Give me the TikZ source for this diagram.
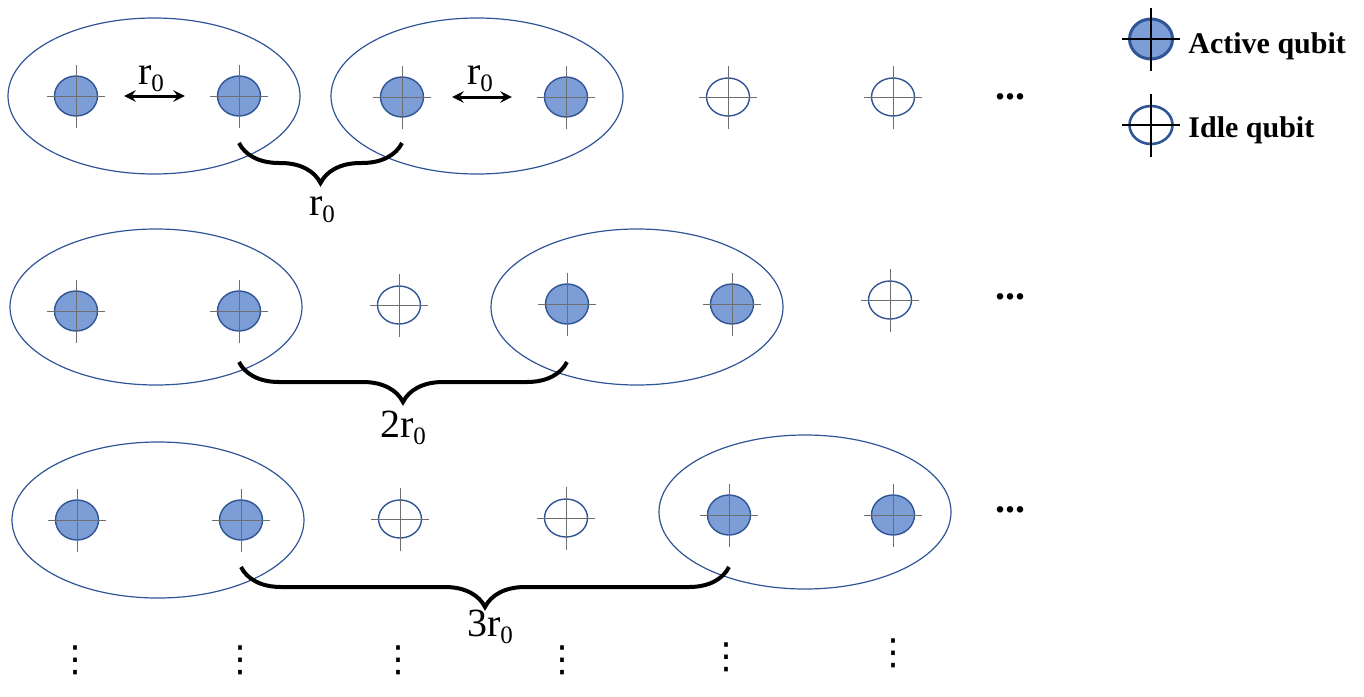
\documentclass[tikz,border=0pt]{standalone}
\usepackage{fontspec}
\setmainfont{Liberation Serif}
\newfontfamily\symbolfont{DejaVu Sans}
\usetikzlibrary{shapes.geometric,decorations.pathreplacing}

\definecolor{qubitFill}{RGB}{125,157,214}
\definecolor{qubitLine}{RGB}{47,85,151}
\definecolor{crossGray}{RGB}{110,110,110}

\tikzset{
	activeQ/.style={ellipse, draw=qubitLine, fill=qubitFill, line width=0.7pt, minimum width=21.5pt, minimum height=20pt, inner sep=0pt},
	idleQ/.style={ellipse, draw=qubitLine, fill=white, line width=0.7pt, minimum width=21.5pt, minimum height=19pt, inner sep=0pt},
	crossLine/.style={draw=crossGray, line width=0.5pt},
	legendCross/.style={draw=black, line width=0.6pt},
	groupBox/.style={ellipse, draw=qubitLine, line width=0.6pt, minimum width=146pt, minimum height=78pt, inner sep=0pt},
	braceLine/.style={decorate, decoration={brace, mirror, amplitude=20pt}, line width=2pt},
	distArrow/.style={<->, >=stealth, line width=1.5pt},
	distLabel/.style={font=\fontsize{20}{24}\selectfont, anchor=base, inner sep=0pt},
	dotsText/.style={font=\fontsize{20}{24}\selectfont\bfseries, anchor=base, inner sep=0pt},
	vdotsText/.style={font=\fontsize{18}{20}\symbolfont, inner sep=0pt},
	legendText/.style={font=\fontsize{15}{18}\selectfont\bfseries, anchor=base west, inner sep=0pt}
}

% crosshair through a qubit
\newcommand{\qcross}[2][crossLine]{%
	\draw[#1] ([xshift=-14.5pt]#2.center) -- ([xshift=14.5pt]#2.center);
	\draw[#1] ([yshift=-15.75pt]#2.center) -- ([yshift=15.75pt]#2.center);}
\newcommand{\rnought}{r\raisebox{-3.5pt}{\fontsize{12.5}{14}\selectfont 0}}

\begin{document}
\begin{tikzpicture}[x=0.5pt, y=-0.5pt]
\useasboundingbox (0,0) rectangle (1364,696);

	% pairs
	\node[groupBox](g11) at (154,96){};
	\node[groupBox](g12) at (477,96){};
	\node[groupBox](g21) at (156,307){};
	\node[groupBox](g22) at (637,307){};
	\node[groupBox](g31) at (158,520){};
	\node[groupBox, minimum height=77pt](g32) at (805,512){};

	% row 1
	\node[activeQ](q11) at (76,96){}; \qcross{q11}
	\node[activeQ](q12) at (239,96){}; \qcross{q12}
	\node[activeQ](q13) at (402,97){}; \qcross{q13}
	\node[activeQ](q14) at (566,97){}; \qcross{q14}
	\node[idleQ](q15) at (728,97){}; \qcross{q15}
	\node[idleQ](q16) at (893,97){}; \qcross{q16}
	\node[dotsText](e1) at (1010,99){...};

	\draw[distArrow] ([xshift=13pt]q11.east) -- ([xshift=-16pt]q12.west);
	\node[distLabel](d1) at (151,84){\rnought};
	\draw[distArrow] ([xshift=14pt]q13.east) -- ([xshift=-16pt]q14.west);
	\node[distLabel](d2) at (480,84){\rnought};

	\draw[braceLine] (q12 |- 0,143) -- (q13 |- 0,143);
	\node[distLabel](b1) at (322,215){\rnought};

	% row 2
	\node[activeQ](q21) at (76,311){}; \qcross{q21}
	\node[activeQ](q22) at (239,311){}; \qcross{q22}
	\node[idleQ](q23) at (399,305){}; \qcross{q23}
	\node[activeQ](q24) at (567,304){}; \qcross{q24}
	\node[activeQ](q25) at (732,304){}; \qcross{q25}
	\node[idleQ](q26) at (890,300){}; \qcross{q26}
	\node[dotsText](e2) at (1010,299){...};

	\draw[braceLine] (q22 |- 0,362) -- (q24 |- 0,362);
	\node[distLabel](b2) at (403,437){2\rnought};

	% row 3
	\node[activeQ](q31) at (77,520){}; \qcross{q31}
	\node[activeQ](q32) at (241,520){}; \qcross{q32}
	\node[idleQ](q33) at (400,519){}; \qcross{q33}
	\node[idleQ](q34) at (566,518){}; \qcross{q34}
	\node[activeQ](q35) at (729,515){}; \qcross{q35}
	\node[activeQ](q36) at (893,515){}; \qcross{q36}
	\node[dotsText](e3) at (1010,512){...};

	\draw[braceLine] (q32 |- 0,567) -- (q35 |- 0,567);
	\node[distLabel](b3) at (490,636){3\rnought};

	% more rows
	\node[vdotsText](v1) at (75,660){⋮};
	\node[vdotsText](v2) at (240,660){⋮};
	\node[vdotsText](v3) at (398,660){⋮};
	\node[vdotsText](v4) at (562,660){⋮};
	\node[vdotsText](v5) at (726,657){⋮};
	\node[vdotsText](v6) at (893,653){⋮};

	% legend
	\node[activeQ, line width=1.5pt](la) at (1151,39){}; \qcross[legendCross]{la}
	\node[legendText](laText) at (1188,53){Active qubit};
	\node[idleQ, line width=1.3pt](li) at (1151,125){}; \qcross[legendCross]{li}
	\node[legendText](liText) at (1188,137){Idle qubit};
\end{tikzpicture}
\end{document}
